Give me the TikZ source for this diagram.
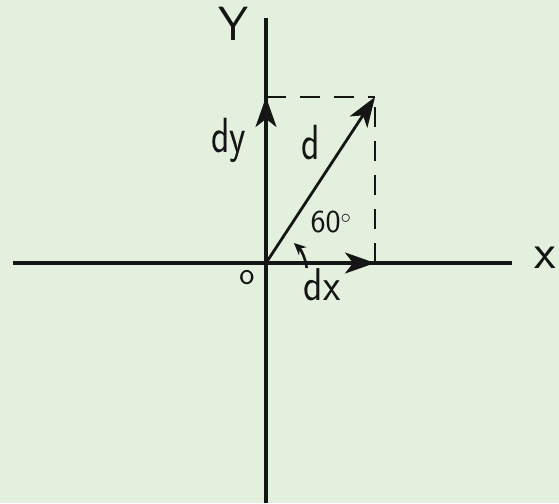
\documentclass[tikz,border=0pt]{standalone}
\usepackage{xcolor}
\usepackage{tikz}
\usetikzlibrary{arrows.meta}
\definecolor{ink}{HTML}{151515}
\definecolor{paper}{HTML}{E3F0DD}

\begin{document}
\begin{tikzpicture}[
  x=1pt, y=-1pt,
  font=\sffamily,
  axis/.style={line width=3.6pt, ink},
  vec/.style={-{Stealth[length=30pt,width=21pt,inset=8pt]}, line width=2.8pt, ink},
  guide/.style={line width=2.6pt, ink, dash pattern=on 20pt off 14pt},
  lbl/.style={text=ink, inner sep=0pt}
]
  \fill[paper] (0,0) rectangle (559,503);
  \useasboundingbox (0,0) rectangle (559,503);
  % axes
  \coordinate (O) at (266,263);
  \coordinate (ytop) at (266,18);
  \coordinate (ybot) at (266,503);
  \coordinate (xleft) at (13,263);
  \coordinate (xright) at (512,263);
  \draw[axis] (xleft) -- (xright);
  \draw[axis] (ybot) -- (ytop);
  % vector and components
  \coordinate (tip) at (375,97);
  \coordinate (dxend) at (375,263);
  \coordinate (dyend) at (266,97);
  \draw[guide] (dyend) -- (tip);
  \draw[guide] (dxend) -- (tip);
  \draw[vec] (O) -- (tip);
  \draw[vec] (O) -- (dxend);
  \draw[vec] (O) -- (dyend);
  \draw[-{Stealth[length=12pt,width=11pt]}, line width=2.6pt, ink]
    ([shift={(7:41)}]O) arc[start angle=-7, end angle=-47, radius=41];
  % labels
  \node[lbl, font=\sffamily\fontsize{48}{48}\selectfont] (ylab) at (233,24) {Y};
  \node[lbl, font=\sffamily\fontsize{50}{50}\selectfont] (xlab) at (545,258) {x};
  \node[lbl, yscale=1.3, font=\sffamily\fontsize{38}{38}\selectfont] (dylab) at (229,140) {dy};
  \node[lbl, yscale=1.3, font=\sffamily\fontsize{38}{38}\selectfont] (dlab) at (311,143) {d};
  \node[lbl, yscale=1.15, font=\sffamily\fontsize{40}{40}\selectfont] (dxlab) at (322,285) {dx};
  \node[lbl, font=\sffamily\fontsize{32}{32}\selectfont] (anglab) at (331,222) {60$^{\circ}$};
  \node[lbl, font=\sffamily\fontsize{32}{32}\selectfont] (olab) at (247,278) {o};
\end{tikzpicture}
\end{document}
